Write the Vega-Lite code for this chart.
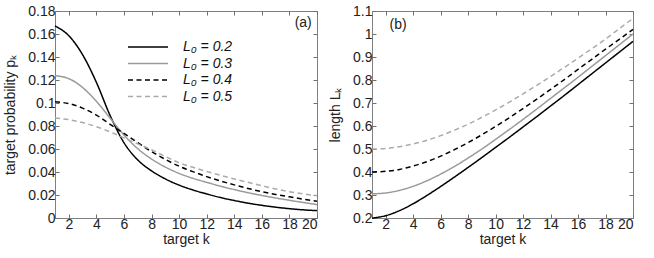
{
  "$schema": "https://vega.github.io/schema/vega-lite/v6.json",
  "padding": {"left": 3, "top": 3, "right": 0, "bottom": 0},
  "spacing": 7,
  "config": {
    "font": "Liberation Sans",
    "view": {"stroke": "#808080", "strokeWidth": 1},
    "axis": {"domain": false, "grid": false, "tickColor": "#707070", "tickSize": -4, "tickWidth": 1, "labelFontSize": 14, "titleFontSize": 14, "titleFontWeight": "normal", "labelColor": "#222", "titleColor": "#222", "labelPadding": 4, "titlePadding": 10, "labelFont": "Liberation Sans", "titleFont": "Liberation Sans"},
    "axisX": {"labelPadding": 3, "titlePadding": 1},
    "line": {"strokeWidth": 1.5, "interpolate": "monotone"}
  },
  "resolve": {"scale": {"color": "independent", "strokeDash": "independent"}},
  "hconcat": [
    {
      "width": 262,
      "height": 207,
      "data": {"values": [
        {"k":1,"L0":"0.2","p":0.167},{"k":2,"L0":"0.2","p":0.1585},{"k":3,"L0":"0.2","p":0.142},{"k":4,"L0":"0.2","p":0.118},{"k":5,"L0":"0.2","p":0.089},{"k":6,"L0":"0.2","p":0.0655},{"k":7,"L0":"0.2","p":0.0505},{"k":8,"L0":"0.2","p":0.041},{"k":9,"L0":"0.2","p":0.034},{"k":10,"L0":"0.2","p":0.0286},{"k":11,"L0":"0.2","p":0.0244},{"k":12,"L0":"0.2","p":0.0209},{"k":13,"L0":"0.2","p":0.0178},{"k":14,"L0":"0.2","p":0.0152},{"k":15,"L0":"0.2","p":0.0129},{"k":16,"L0":"0.2","p":0.011},{"k":17,"L0":"0.2","p":0.0094},{"k":18,"L0":"0.2","p":0.0081},{"k":19,"L0":"0.2","p":0.0071},{"k":20,"L0":"0.2","p":0.0064},
        {"k":1,"L0":"0.3","p":0.1237},{"k":2,"L0":"0.3","p":0.1212},{"k":3,"L0":"0.3","p":0.1135},{"k":4,"L0":"0.3","p":0.1015},{"k":5,"L0":"0.3","p":0.0868},{"k":6,"L0":"0.3","p":0.0722},{"k":7,"L0":"0.3","p":0.0603},{"k":8,"L0":"0.3","p":0.0513},{"k":9,"L0":"0.3","p":0.0443},{"k":10,"L0":"0.3","p":0.0388},{"k":11,"L0":"0.3","p":0.0345},{"k":12,"L0":"0.3","p":0.031},{"k":13,"L0":"0.3","p":0.0277},{"k":14,"L0":"0.3","p":0.0247},{"k":15,"L0":"0.3","p":0.022},{"k":16,"L0":"0.3","p":0.0196},{"k":17,"L0":"0.3","p":0.0174},{"k":18,"L0":"0.3","p":0.0154},{"k":19,"L0":"0.3","p":0.0135},{"k":20,"L0":"0.3","p":0.0117},
        {"k":1,"L0":"0.4","p":0.101},{"k":2,"L0":"0.4","p":0.0995},{"k":3,"L0":"0.4","p":0.0955},{"k":4,"L0":"0.4","p":0.0895},{"k":5,"L0":"0.4","p":0.0815},{"k":6,"L0":"0.4","p":0.0735},{"k":7,"L0":"0.4","p":0.0655},{"k":8,"L0":"0.4","p":0.0578},{"k":9,"L0":"0.4","p":0.051},{"k":10,"L0":"0.4","p":0.045},{"k":11,"L0":"0.4","p":0.0403},{"k":12,"L0":"0.4","p":0.036},{"k":13,"L0":"0.4","p":0.0322},{"k":14,"L0":"0.4","p":0.0288},{"k":15,"L0":"0.4","p":0.0257},{"k":16,"L0":"0.4","p":0.0229},{"k":17,"L0":"0.4","p":0.0205},{"k":18,"L0":"0.4","p":0.0184},{"k":19,"L0":"0.4","p":0.0164},{"k":20,"L0":"0.4","p":0.0145},
        {"k":1,"L0":"0.5","p":0.087},{"k":2,"L0":"0.5","p":0.0855},{"k":3,"L0":"0.5","p":0.083},{"k":4,"L0":"0.5","p":0.0794},{"k":5,"L0":"0.5","p":0.0748},{"k":6,"L0":"0.5","p":0.0697},{"k":7,"L0":"0.5","p":0.0645},{"k":8,"L0":"0.5","p":0.0593},{"k":9,"L0":"0.5","p":0.0535},{"k":10,"L0":"0.5","p":0.048},{"k":11,"L0":"0.5","p":0.0441},{"k":12,"L0":"0.5","p":0.0405},{"k":13,"L0":"0.5","p":0.0371},{"k":14,"L0":"0.5","p":0.034},{"k":15,"L0":"0.5","p":0.031},{"k":16,"L0":"0.5","p":0.028},{"k":17,"L0":"0.5","p":0.0253},{"k":18,"L0":"0.5","p":0.0229},{"k":19,"L0":"0.5","p":0.021},{"k":20,"L0":"0.5","p":0.0194}
      ]},
      "layer": [
        {
          "mark": {"type": "line"},
          "encoding": {
            "x": {"field": "k", "type": "quantitative", "scale": {"domain": [1, 20], "nice": false, "zero": false}, "axis": {"values": [2,4,6,8,10,12,14,16,18,20], "title": "target k"}},
            "y": {"field": "p", "type": "quantitative", "scale": {"domain": [0, 0.18], "nice": false}, "axis": {"values": [0,0.02,0.04,0.06,0.08,0.1,0.12,0.14,0.16,0.18], "format": "~g", "title": "target probability pₖ"}},
            "color": {"field": "L0", "type": "nominal", "scale": {"domain": ["0.2","0.3","0.4","0.5"], "range": ["#000000","#9a9a9a","#000000","#ababab"]},
              "legend": {"orient": "none", "legendX": 72, "legendY": 28, "title": null, "symbolType": "stroke", "symbolSize": 1600, "symbolStrokeWidth": 1.5, "labelFontSize": 14, "labelFontStyle": "italic", "labelColor": "#111", "labelOffset": 14, "clipHeight": 16, "rowPadding": 0.5, "padding": 0, "labelExpr": "'L₀ = ' + datum.label"}},
            "strokeDash": {"field": "L0", "type": "nominal", "scale": {"domain": ["0.2","0.3","0.4","0.5"], "range": [[1,0],[1,0],[5,3.5],[5,3.5]]},
              "legend": {"orient": "none", "legendX": 72, "legendY": 28, "title": null, "symbolType": "stroke", "symbolSize": 1600, "symbolStrokeWidth": 1.5, "labelFontSize": 14, "labelFontStyle": "italic", "labelColor": "#111", "labelOffset": 14, "clipHeight": 16, "rowPadding": 0.5, "padding": 0, "labelExpr": "'L₀ = ' + datum.label"}}
          }
        },
        {
          "mark": {"type": "line", "opacity": 0},
          "encoding": {
            "x": {"field": "k", "type": "quantitative", "axis": {"orient": "top", "values": [2,4,6,8,10,12,14,16,18,20], "labels": false, "title": null}},
            "y": {"field": "p", "type": "quantitative", "axis": {"orient": "right", "values": [0,0.02,0.04,0.06,0.08,0.1,0.12,0.14,0.16,0.18], "labels": false, "title": null}},
            "detail": {"field": "L0"}
          }
        },
        {
          "data": {"values": [{"label": "(a)"}]},
          "mark": {"type": "text", "fontSize": 14, "fill": "#222", "fontWeight": "normal", "align": "center", "baseline": "middle"},
          "encoding": {
            "x": {"datum": 19.0, "type": "quantitative", "axis": null},
            "y": {"datum": 0.170, "type": "quantitative", "axis": null},
            "text": {"field": "label"}
          }
        }
      ],
      "resolve": {"axis": {"x": "independent", "y": "independent"}}
    },
    {
      "width": 261,
      "height": 207,
      "data": {"values": [
        {"k":1,"L0":"0.2","L":0.2},{"k":2,"L0":"0.2","L":0.21},{"k":3,"L0":"0.2","L":0.232},{"k":4,"L0":"0.2","L":0.262},{"k":5,"L0":"0.2","L":0.298},{"k":6,"L0":"0.2","L":0.337},{"k":7,"L0":"0.2","L":0.378},{"k":8,"L0":"0.2","L":0.42},{"k":9,"L0":"0.2","L":0.463},{"k":10,"L0":"0.2","L":0.507},{"k":11,"L0":"0.2","L":0.551},{"k":12,"L0":"0.2","L":0.596},{"k":13,"L0":"0.2","L":0.641},{"k":14,"L0":"0.2","L":0.687},{"k":15,"L0":"0.2","L":0.733},{"k":16,"L0":"0.2","L":0.78},{"k":17,"L0":"0.2","L":0.827},{"k":18,"L0":"0.2","L":0.874},{"k":19,"L0":"0.2","L":0.921},{"k":20,"L0":"0.2","L":0.968},
        {"k":1,"L0":"0.3","L":0.305},{"k":2,"L0":"0.3","L":0.309},{"k":3,"L0":"0.3","L":0.32},{"k":4,"L0":"0.3","L":0.338},{"k":5,"L0":"0.3","L":0.362},{"k":6,"L0":"0.3","L":0.391},{"k":7,"L0":"0.3","L":0.424},{"k":8,"L0":"0.3","L":0.461},{"k":9,"L0":"0.3","L":0.5},{"k":10,"L0":"0.3","L":0.542},{"k":11,"L0":"0.3","L":0.585},{"k":12,"L0":"0.3","L":0.629},{"k":13,"L0":"0.3","L":0.674},{"k":14,"L0":"0.3","L":0.72},{"k":15,"L0":"0.3","L":0.766},{"k":16,"L0":"0.3","L":0.812},{"k":17,"L0":"0.3","L":0.859},{"k":18,"L0":"0.3","L":0.906},{"k":19,"L0":"0.3","L":0.953},{"k":20,"L0":"0.3","L":1.0},
        {"k":1,"L0":"0.4","L":0.4},{"k":2,"L0":"0.4","L":0.403},{"k":3,"L0":"0.4","L":0.411},{"k":4,"L0":"0.4","L":0.426},{"k":5,"L0":"0.4","L":0.445},{"k":6,"L0":"0.4","L":0.469},{"k":7,"L0":"0.4","L":0.497},{"k":8,"L0":"0.4","L":0.528},{"k":9,"L0":"0.4","L":0.562},{"k":10,"L0":"0.4","L":0.598},{"k":11,"L0":"0.4","L":0.636},{"k":12,"L0":"0.4","L":0.676},{"k":13,"L0":"0.4","L":0.717},{"k":14,"L0":"0.4","L":0.759},{"k":15,"L0":"0.4","L":0.802},{"k":16,"L0":"0.4","L":0.846},{"k":17,"L0":"0.4","L":0.89},{"k":18,"L0":"0.4","L":0.934},{"k":19,"L0":"0.4","L":0.977},{"k":20,"L0":"0.4","L":1.02},
        {"k":1,"L0":"0.5","L":0.5},{"k":2,"L0":"0.5","L":0.502},{"k":3,"L0":"0.5","L":0.51},{"k":4,"L0":"0.5","L":0.522},{"k":5,"L0":"0.5","L":0.538},{"k":6,"L0":"0.5","L":0.558},{"k":7,"L0":"0.5","L":0.582},{"k":8,"L0":"0.5","L":0.608},{"k":9,"L0":"0.5","L":0.638},{"k":10,"L0":"0.5","L":0.67},{"k":11,"L0":"0.5","L":0.704},{"k":12,"L0":"0.5","L":0.74},{"k":13,"L0":"0.5","L":0.777},{"k":14,"L0":"0.5","L":0.815},{"k":15,"L0":"0.5","L":0.855},{"k":16,"L0":"0.5","L":0.895},{"k":17,"L0":"0.5","L":0.936},{"k":18,"L0":"0.5","L":0.978},{"k":19,"L0":"0.5","L":1.023},{"k":20,"L0":"0.5","L":1.068}
      ]},
      "layer": [
        {
          "mark": {"type": "line"},
          "encoding": {
            "x": {"field": "k", "type": "quantitative", "scale": {"domain": [1, 20], "nice": false, "zero": false}, "axis": {"values": [2,4,6,8,10,12,14,16,18,20], "title": "target k"}},
            "y": {"field": "L", "type": "quantitative", "scale": {"domain": [0.2, 1.1], "nice": false, "zero": false}, "axis": {"values": [0.2,0.3,0.4,0.5,0.6,0.7,0.8,0.9,1,1.1], "format": "~g", "title": "length Lₖ"}},
            "color": {"field": "L0", "type": "nominal", "scale": {"domain": ["0.2","0.3","0.4","0.5"], "range": ["#000000","#9a9a9a","#000000","#ababab"]}, "legend": null},
            "strokeDash": {"field": "L0", "type": "nominal", "scale": {"domain": ["0.2","0.3","0.4","0.5"], "range": [[1,0],[1,0],[5,3.5],[5,3.5]]}, "legend": null}
          }
        },
        {
          "mark": {"type": "line", "opacity": 0},
          "encoding": {
            "x": {"field": "k", "type": "quantitative", "axis": {"orient": "top", "values": [2,4,6,8,10,12,14,16,18,20], "labels": false, "title": null}},
            "y": {"field": "L", "type": "quantitative", "axis": {"orient": "right", "values": [0.2,0.3,0.4,0.5,0.6,0.7,0.8,0.9,1,1.1], "labels": false, "title": null}},
            "detail": {"field": "L0"}
          }
        },
        {
          "data": {"values": [{"label": "(b)"}]},
          "mark": {"type": "text", "fontSize": 14, "fill": "#222", "fontWeight": "normal", "align": "center", "baseline": "middle"},
          "encoding": {
            "x": {"datum": 2.9, "type": "quantitative", "axis": null},
            "y": {"datum": 1.04, "type": "quantitative", "axis": null},
            "text": {"field": "label"}
          }
        }
      ],
      "resolve": {"axis": {"x": "independent", "y": "independent"}}
    }
  ]
}
